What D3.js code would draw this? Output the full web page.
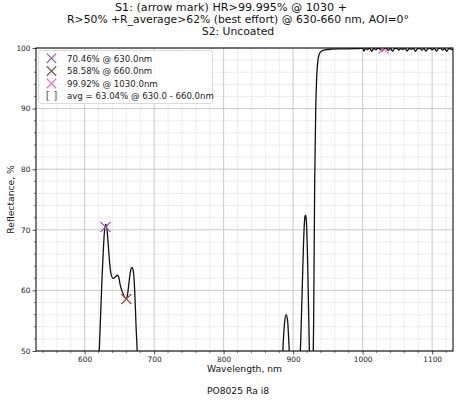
<!DOCTYPE html>
<html>
<head>
<meta charset="utf-8">
<script src="https://cdn.jsdelivr.net/npm/d3@7"></script>
<style>
html,body{margin:0;padding:0;background:#fff;}
svg{display:block;font-family:"DejaVu Sans",sans-serif;}
</style>
</head>
<body>
<svg id="chart" width="461" height="400"></svg>
<script>
// ---------- data ----------
const titleLines = [
  "S1: (arrow mark) HR>99.995% @ 1030 +",
  "R>50% +R_average>62% (best effort) @ 630-660 nm, AOI=0°",
  "S2: Uncoated"
];
const xLabel = "Wavelength, nm";
const yLabel = "Reflectance, %";
const footer = "PO8025 Ra i8";
const xTicks = [600, 700, 800, 900, 1000, 1100];
const yTicks = [50, 60, 70, 80, 90, 100];

const wavelength = [530,600,615,619,621,623,625,627,629,630.5,632,634,636,638,641,644,647,649,651,654,657,660,662,664,666,668,670,672,674,676,678,685,750,850,880,884,886,888,890,892,894,896,900,906,909,911,913,915,917,918,919,921,923,924,926,928,929.5,931,932.5,934,936,938,941,946,955,970,990,
995,1000,1002,1004,1007,1010,1013,1016,1019,1022,1025,1028,1031,1034,1037,1040,1043,1046,1049,1052,1055,1058,1061,1064,1067,1070,1073,1076,1079,1082,1085,1088,1091,1094,1097,1100,1103,1106,1109,1112,1115,1118,1121,1124,1127,1130];
const reflectance = [20,15,30,45,50,56,62,67,70.3,70.9,70.2,67.5,64.5,62.7,62.0,62.2,62.5,62.2,61,59.8,59.0,58.6,59.5,61.5,63.2,63.8,63.2,60,54,49,42,25,10,20,40,47,52,55,56,55,51,46,40,40,46,52,60,68,72.2,72.4,71.5,64,52,46,40,45,55,78,90,95.5,98.2,99.1,99.5,99.7,99.8,99.85,99.9,
99.92,99.95,99.5,99.95,99.75,99.97,99.45,99.93,99.7,99.96,99.85,99.5,99.92,99.97,99.6,99.95,99.45,99.9,99.96,99.65,99.93,99.75,99.97,99.5,99.92,99.8,99.96,99.45,99.9,99.95,99.65,99.93,99.5,99.9,99.96,99.7,99.95,99.5,99.9,99.97,99.65,99.92,99.45,99.9,99.8,99.7];

const markerWl = [630, 660, 1030];
const markerR = [70.46, 58.58, 99.92];
const legendLabels = [
  "70.46% @ 630.0nm",
  "58.58% @ 660.0nm",
  "99.92% @ 1030.0nm",
  "avg = 63.04% @ 630.0 - 660.0nm"
];
const markerColors = ["#9467bd", "#8c564b", "#e377c2"];

// ---------- layout ----------
const L = 36, R = 453, T = 48, B = 351;
const svg = d3.select("#chart");
const x = d3.scaleLinear().domain([530, 1130]).range([L, R]);
const y = d3.scaleLinear().domain([50, 100]).range([B, T]);

// minor grid
const xMinor = d3.range(540, 1131, 20).filter(v => v % 100 !== 0);
const yMinor = d3.range(50, 100.1, 2).filter(v => v % 10 !== 0);
svg.append("g").selectAll("line").data(xMinor).join("line")
  .attr("x1", d => x(d)).attr("x2", d => x(d)).attr("y1", T).attr("y2", B)
  .attr("stroke", "#e6e6e6").attr("stroke-width", 0.7);
svg.append("g").selectAll("line").data(yMinor).join("line")
  .attr("y1", d => y(d)).attr("y2", d => y(d)).attr("x1", L).attr("x2", R)
  .attr("stroke", "#e6e6e6").attr("stroke-width", 0.7);
// major grid
svg.append("g").selectAll("line").data(xTicks).join("line")
  .attr("x1", d => x(d)).attr("x2", d => x(d)).attr("y1", T).attr("y2", B)
  .attr("stroke", "#bdbdbd").attr("stroke-width", 0.8);
svg.append("g").selectAll("line").data(yTicks).join("line")
  .attr("y1", d => y(d)).attr("y2", d => y(d)).attr("x1", L).attr("x2", R)
  .attr("stroke", "#bdbdbd").attr("stroke-width", 0.8);

// clip
svg.append("defs").append("clipPath").attr("id", "clip")
  .append("rect").attr("x", L).attr("y", T).attr("width", R - L).attr("height", B - T);

// curve
const pts = wavelength.map((w, i) => [w, reflectance[i]]);
const line = d3.line().x(d => x(d[0])).y(d => y(d[1])).curve(d3.curveMonotoneX);
svg.append("path").datum(pts).attr("clip-path", "url(#clip)")
  .attr("d", line).attr("fill", "none").attr("stroke", "#111").attr("stroke-width", 1.3);

// markers
const ms = 5;
const mg = svg.append("g").attr("clip-path", "url(#clip)");
markerWl.forEach((w, i) => {
  const cx = x(w), cy = y(markerR[i]);
  mg.append("path")
    .attr("d", `M${cx-ms},${cy-ms}L${cx+ms},${cy+ms}M${cx-ms},${cy+ms}L${cx+ms},${cy-ms}`)
    .attr("stroke", markerColors[i]).attr("stroke-width", 1.3).attr("fill", "none");
});

// axes
const xAxis = d3.axisBottom(x).tickValues(xTicks).tickFormat(d3.format("d")).tickSize(3.5).tickPadding(2);
const yAxis = d3.axisLeft(y).tickValues(yTicks).tickFormat(d3.format("d")).tickSize(3.5).tickPadding(2);
const gx = svg.append("g").attr("transform", `translate(0,${B})`).call(xAxis);
const gy = svg.append("g").attr("transform", `translate(${L},0)`).call(yAxis);
[gx, gy].forEach(g => {
  g.select(".domain").remove();
  g.selectAll("text").attr("font-family", "DejaVu Sans").attr("font-size", 7.4).attr("fill", "#222");
  g.selectAll("line").attr("stroke", "#222").attr("stroke-width", 0.8);
});
// minor ticks
svg.append("g").selectAll("line").data(xMinor).join("line")
  .attr("x1", d => x(d)).attr("x2", d => x(d)).attr("y1", B).attr("y2", B + 2)
  .attr("stroke", "#222").attr("stroke-width", 0.6);
svg.append("g").selectAll("line").data(yMinor).join("line")
  .attr("y1", d => y(d)).attr("y2", d => y(d)).attr("x1", L - 2).attr("x2", L)
  .attr("stroke", "#222").attr("stroke-width", 0.6);

// frame
svg.append("rect").attr("x", L).attr("y", T).attr("width", R - L).attr("height", B - T)
  .attr("fill", "none").attr("stroke", "#111").attr("stroke-width", 1.1);

// legend
const lg = svg.append("g");
lg.append("rect").attr("x", 38.5).attr("y", 50.5).attr("width", 174).attr("height", 53)
  .attr("rx", 2.5).attr("fill", "#fff").attr("fill-opacity", 0.85)
  .attr("stroke", "#d0d0d0").attr("stroke-width", 0.8);
const rowY = [58.3, 71, 83.5, 95.5];
legendLabels.forEach((lab, i) => {
  const cy = rowY[i], cx = 51.5, s = 4.7;
  if (i < 3) {
    lg.append("path")
      .attr("d", `M${cx-s},${cy-s}L${cx+s},${cy+s}M${cx-s},${cy+s}L${cx+s},${cy-s}`)
      .attr("stroke", markerColors[i]).attr("stroke-width", 1.3).attr("fill", "none");
  } else {
    lg.append("text").attr("x", cx).attr("y", cy + 3.6).attr("text-anchor", "middle")
      .attr("font-size", 10.5).attr("fill", "#555").text("[ ]");
  }
  lg.append("text").attr("x", 67).attr("y", cy + 3.2)
    .attr("font-size", 8.6).attr("fill", "#222").text(lab);
});

// titles
const titleY = [10.5, 22.5, 34.5];
titleLines.forEach((t, i) => {
  const tx = svg.append("text").attr("y", titleY[i])
    .attr("font-size", 10.8).attr("fill", "#111").text(t);
  if (i === 0) {
    tx.attr("x", 231 - 116).attr("textLength", 232).attr("lengthAdjust", "spacingAndGlyphs");
  } else {
    tx.attr("x", 238).attr("text-anchor", "middle");
  }
});

// axis labels
svg.append("text").attr("x", (L + R) / 2).attr("y", 372).attr("text-anchor", "middle")
  .attr("font-size", 9.2).attr("fill", "#111").text(xLabel);
svg.append("text").attr("transform", `translate(14,${(T + B) / 2}) rotate(-90)`)
  .attr("text-anchor", "middle").attr("font-size", 9.2).attr("fill", "#111").text(yLabel);
svg.append("text").attr("x", 238).attr("y", 394).attr("text-anchor", "middle")
  .attr("font-size", 9.2).attr("fill", "#111").text(footer);
</script>
</body>
</html>
